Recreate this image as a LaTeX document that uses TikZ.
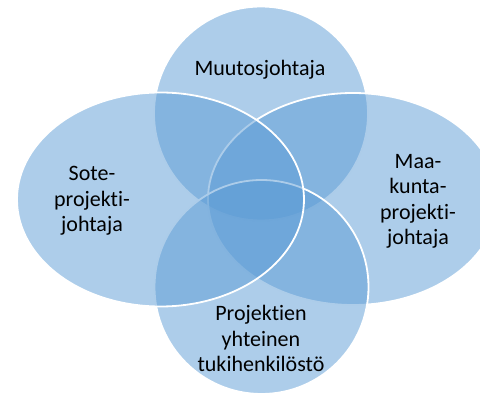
\documentclass[tikz,border=0pt]{standalone}
\usepackage{fontspec}
\setmainfont{Carlito}[Ligatures={NoCommon}]
\usetikzlibrary{shapes.geometric}
\definecolor{vennblue}{HTML}{5B9BD5}
\begin{document}
\begin{tikzpicture}[x=1pt,y=-1pt,
  venn/.style={fill=vennblue, fill opacity=0.5, draw=white, line width=1.8pt, inner sep=0pt},
  lbl/.style={font=\fontsize{22}{25.5}\selectfont, align=center, text=black, inner sep=0pt, anchor=base}]
\useasboundingbox (0,0) rectangle (480,395);
\clip (0,0) rectangle (480,395);
\node[venn, circle, minimum size=214pt] (top) at (261,113.5) {};
\node[venn, ellipse, minimum width=290pt, minimum height=212pt] (right) at (353,199) {};
\node[venn, circle, minimum size=214pt] (bottom) at (261.5,287) {};
\node[venn, ellipse, minimum width=287pt, minimum height=214pt] (left) at (160.5,199.5) {};
\node[lbl] (ttop) at (260,76) {Muutosjohtaja};
\node[lbl] (tleft) at (92,232) {Sote-\\projekti-\\johtaja};
\node[lbl] (tright) at (418,245) {Maa-\\kunta-\\projekti-\\johtaja};
\node[lbl] (tbottom) at (261,372) {Projektien\\yhteinen\\tukihenkilöstö};
\end{tikzpicture}
\end{document}
